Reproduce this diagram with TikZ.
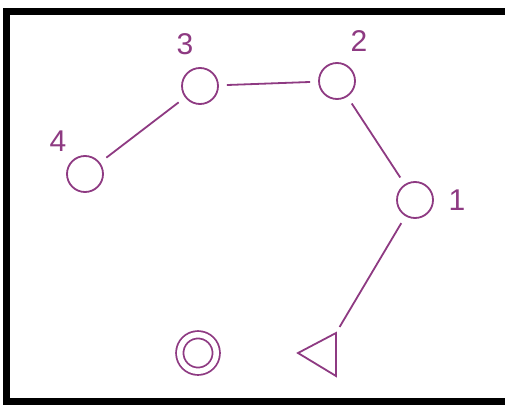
\documentclass[tikz,border=0pt]{standalone}
\usepackage{fontspec}
\setmainfont{Liberation Sans}
\definecolor{plum}{RGB}{142,58,130}
\begin{document}
\begin{tikzpicture}[x=1pt,y=-1pt,
  state/.style={circle,draw=plum,line width=1.8pt,minimum size=36pt,inner sep=0pt},
  final/.style={circle,draw=plum,line width=1.8pt,double=white,double distance=5.5pt,minimum size=36.5pt,inner sep=0pt},
  link/.style={draw=plum,line width=1.8pt,shorten <=8pt,shorten >=8pt},
  lbl/.style={text=plum,font=\fontsize{30}{32}\selectfont,inner sep=0pt}]
\useasboundingbox (0,0) rectangle (505,404);
\clip (0,0) rectangle (505,404);
\fill[white] (0,0) rectangle (505,404);
\draw[black,line width=7pt,line join=miter] (510,11.5) -- (6.5,11.5) -- (6.5,401.5) -- (510,401.5);
\node[state] (n3) at (200,86) {};
\node[state] (n2) at (337,81) {};
\node[state] (n4) at (85,174) {};
\node[state] (n1) at (415,200) {};
\node[final] (f) at (198,353) {};
\coordinate (tl) at (298,353);
\coordinate (tt) at (336,333);
\coordinate (tb) at (336,376);
\draw[plum,line width=1.8pt,line join=miter] (tl) -- (tt) -- (tb) -- cycle;
\node[lbl] (l3) at (185,44) {3};
\node[lbl] (l2) at (359,41) {2};
\node[lbl] (l4) at (58,141.5) {4};
\node[lbl] (l1) at (457,200) {1};
\path[link] (n4) -- (n3);
\path[link] (n3) -- (n2);
\path[link] (n2) -- (n1);
\path[link,shorten <=8pt,shorten >=7pt] (n1) -- (tt);
\end{tikzpicture}
\end{document}
